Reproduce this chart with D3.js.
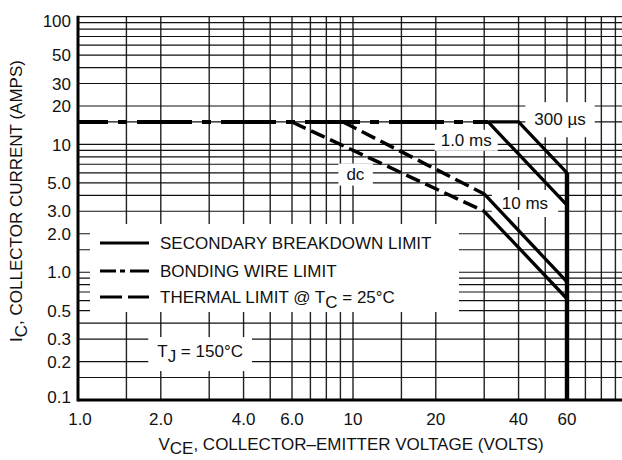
<!DOCTYPE html>
<html>
<head>
<meta charset="utf-8">
<script src="https://cdn.jsdelivr.net/npm/d3@7"></script>
<style>
  html, body { margin: 0; padding: 0; background: #fff; }
  svg { display: block; }
  text { font-family: Arial, "Liberation Sans", Helvetica, sans-serif; fill: #111; }
</style>
</head>
<body>
<div id="chart"></div>
<script>
// Tick labels.
const xTicks = [1, 2, 4, 6, 10, 20, 40, 60];
const xTickText = ["1.0", "2.0", "4.0", "6.0", "10", "20", "40", "60"];
const yTicks = [100, 50, 30, 20, 10, 5, 3, 2, 1, 0.5, 0.3, 0.2, 0.1];
const yTickText = ["100", "50", "30", "20", "10", "5.0", "3.0", "2.0", "1.0", "0.5", "0.3", "0.2", "0.1"];

// Grid lines of the log-log paper.
const xGrid = [1.5, 2, 3, 4, 5, 6, 7, 8, 9, 10, 15, 20, 30, 40, 50, 60, 70, 80, 90];
const yGrid = [100, 90, 80, 70, 60, 50, 40, 30, 20, 15, 10, 9, 8, 7, 6, 5, 4, 3,
  2, 1.5, 1, 0.9, 0.8, 0.7, 0.6, 0.5, 0.4, 0.3, 0.2, 0.15];

// Safe operating area curves: VCE (volts) and IC (amps).
const bondingV = [1, 31];
const bondingI = [15, 15];
const us300V = [31, 40, 60];
const us300I = [15, 15, 6.0];
const limit60V = [60, 60];
const limit60I = [6.0, 0.1];
const ms1V = [31, 60];
const ms1I = [15, 3.35];
const ms10SolidV = [30, 60];
const ms10SolidI = [4.1, 0.84];
const dcSolidV = [30, 60];
const dcSolidI = [3.0, 0.62];
const ms10ThermalV = [9.2, 30];
const ms10ThermalI = [15, 4.1];
const dcThermalV = [6.0, 30];
const dcThermalI = [15, 3.0];

// Curve annotations, placed at (VCE, IC).
const noteText = ["300 µs", "1.0 ms", "10 ms", "dc"];
const noteV = [56.6, 25.8, 42.2, 10.2];
const noteI = [15.8, 10.9, 3.49, 5.88];

// Legend entries.
const legendNames = ["SECONDARY BREAKDOWN LIMIT", "BONDING WIRE LIMIT", "THERMAL LIMIT @ T"];

const width = 622;
const height = 460;
const fontSize = 17;

const svg = d3.select("#chart")
  .append("svg")
  .attr("width", width)
  .attr("height", height);

// Scales.
const x = d3.scaleLog().domain([1, 100]).range([78, 628]);
const y = d3.scaleLog().domain([0.1, 100]).range([400, 16.7]);

/**
 * Grid.
 */
const grid = svg.append("g");
grid.selectAll("line.v")
  .data(xGrid)
  .join("line")
  .attr("x1", (d) => x(d)).attr("x2", (d) => x(d))
  .attr("y1", y(100)).attr("y2", y(0.1))
  .attr("stroke", "#222")
  .attr("stroke-width", 1.4);

grid.selectAll("line.h")
  .data(yGrid)
  .join("line")
  .attr("x1", x(1)).attr("x2", width)
  .attr("y1", (d) => y(d)).attr("y2", (d) => y(d))
  .attr("stroke", "#111")
  .attr("stroke-width", 1.2);

// White box behind the legend; the grid only shows as ticks at the left.
svg.append("rect")
  .attr("x", 90).attr("y", 224)
  .attr("width", 459 - 90).attr("height", 312 - 224)
  .attr("fill", "#fff");

// Axes (thick left and bottom lines).
svg.append("line")
  .attr("x1", x(1)).attr("x2", x(1))
  .attr("y1", y(100) - 1).attr("y2", y(0.1) + 1.5)
  .attr("stroke", "#000").attr("stroke-width", 3);
svg.append("line")
  .attr("x1", x(1)).attr("x2", width)
  .attr("y1", y(0.1)).attr("y2", y(0.1))
  .attr("stroke", "#000").attr("stroke-width", 3);

// Tick labels.
svg.selectAll("text.xt")
  .data(xTicks)
  .join("text")
  .attr("x", (d) => x(d) + (d === 1 ? 2 : 0))
  .attr("y", 425)
  .attr("text-anchor", "middle")
  .attr("font-size", fontSize)
  .text((d, i) => xTickText[i]);

svg.selectAll("text.yt")
  .data(yTicks)
  .join("text")
  .attr("x", 71)
  .attr("y", (d) => Math.max(20.5, Math.min(396.5, y(d))))
  .attr("dy", "0.36em")
  .attr("text-anchor", "end")
  .attr("font-size", fontSize)
  .text((d, i) => yTickText[i]);

// Axis titles.
const xTitle = svg.append("text")
  .attr("x", 351)
  .attr("y", 450)
  .attr("text-anchor", "middle")
  .attr("font-size", fontSize);
xTitle.append("tspan").text("V");
xTitle.append("tspan").attr("dy", 4).text("CE");
xTitle.append("tspan").attr("dy", -4).text(", COLLECTOR–EMITTER VOLTAGE (VOLTS)");

const yTitle = svg.append("text")
  .attr("transform", "translate(22,201) rotate(-90)")
  .attr("text-anchor", "middle")
  .attr("font-size", fontSize);
yTitle.append("tspan").text("I");
yTitle.append("tspan").attr("dy", 5).text("C");
yTitle.append("tspan").attr("dy", -5).text(", COLLECTOR CURRENT (AMPS)");

/**
 * Annotations with white boxes that cut the grid.
 */
const notePad = [[9, 8], [6, 1], [10, 4], [8, 1.5]];
noteText.forEach((t, i) => {
  const g = svg.append("g");
  const label = g.append("text")
    .attr("x", x(noteV[i]))
    .attr("y", y(noteI[i]))
    .attr("dy", "0.36em")
    .attr("text-anchor", "middle")
    .attr("font-size", fontSize)
    .text(t);
  const b = label.node().getBBox();
  g.insert("rect", "text")
    .attr("x", b.x - notePad[i][0])
    .attr("y", b.y - notePad[i][1])
    .attr("width", b.width + 2 * notePad[i][0])
    .attr("height", b.height + 2 * notePad[i][1])
    .attr("fill", "#fff");
});

// Junction temperature note.
const tj = svg.append("g");
const tjText = tj.append("text")
  .attr("x", x(2.78))
  .attr("y", y(0.242))
  .attr("dy", "0.36em")
  .attr("text-anchor", "middle")
  .attr("font-size", fontSize);
tjText.append("tspan").text("T");
tjText.append("tspan").attr("dy", 5).text("J");
tjText.append("tspan").attr("dy", -5).text(" = 150°C");
const tb = tjText.node().getBBox();
tj.insert("rect", "text")
  .attr("x", tb.x - 9).attr("y", tb.y - 5)
  .attr("width", tb.width + 18).attr("height", tb.height + 10)
  .attr("fill", "#fff");

/**
 * Curves.
 */
const line = d3.line().x((d) => x(d[0])).y((d) => y(d[1]));
function drawCurve(vs, is, dash, w, offset = 0) {
  svg.append("path")
    .datum(d3.zip(vs, is))
    .attr("d", line)
    .attr("fill", "none")
    .attr("stroke", "#000")
    .attr("stroke-width", w)
    .attr("stroke-dasharray", dash)
    .attr("stroke-dashoffset", offset)
    .attr("stroke-linejoin", "miter");
}

drawCurve(bondingV, bondingI, "55,10,9,10", 4, 25);
drawCurve(dcThermalV, dcThermalI, "15,6", 3.5);
drawCurve(ms10ThermalV, ms10ThermalI, "15,6", 3.5);
drawCurve(us300V, us300I, null, 3.3);
drawCurve(ms1V, ms1I, null, 3.3);
drawCurve(ms10SolidV, ms10SolidI, null, 3.3);
drawCurve(dcSolidV, dcSolidI, null, 3.3);
drawCurve(limit60V, limit60I, null, 4.4);

/**
 * Legend.
 */
const legendY = [243, 271, 297];
const legendDash = [null, "16,4,5,5,30", "22,6"];
legendNames.forEach((name, i) => {
  svg.append("line")
    .attr("x1", 100).attr("x2", 149)
    .attr("y1", legendY[i]).attr("y2", legendY[i])
    .attr("stroke", "#000")
    .attr("stroke-width", 3)
    .attr("stroke-dasharray", legendDash[i]);
  const t = svg.append("text")
    .attr("x", 160)
    .attr("y", legendY[i] + 6)
    .attr("font-size", fontSize)
    .text(name);
  if (i === 2) {
    t.append("tspan").attr("dy", 5).text("C");
    t.append("tspan").attr("dy", -5).text(" = 25°C");
  }
});
</script>
</body>
</html>
